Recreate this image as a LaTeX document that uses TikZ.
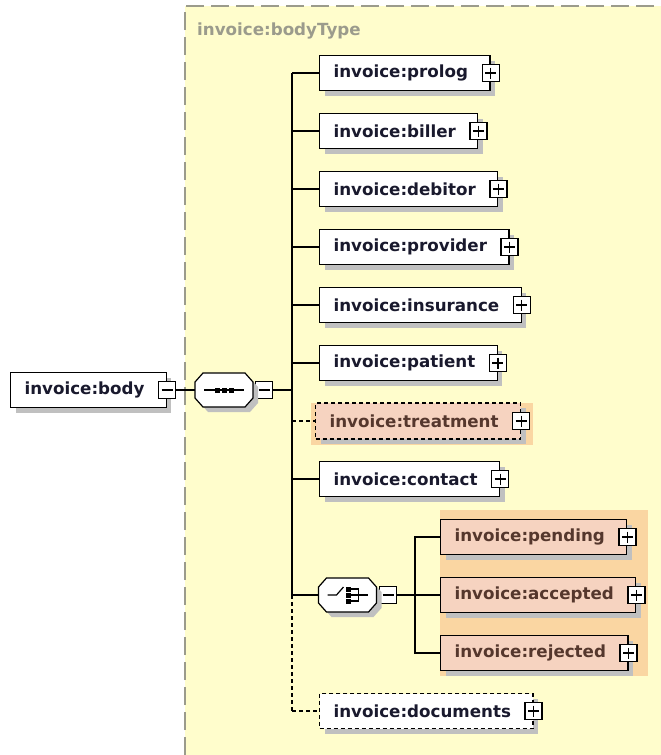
\documentclass[tikz,border=0pt]{standalone}
\usepackage{fontspec}
\setmainfont{DejaVu Sans}
\usetikzlibrary{positioning, shadows}

\definecolor{paneyellow}{RGB}{255,253,204}
\definecolor{panegray}{RGB}{155,155,140}
\definecolor{choicebg}{RGB}{250,214,162}
\definecolor{choicefill}{RGB}{246,211,192}
\definecolor{shadowgray}{RGB}{192,192,192}
\definecolor{elemtext}{RGB}{25,25,45}
\definecolor{choicetext}{RGB}{85,55,45}

% octagon of a compositor, around its centre
\newcommand{\octagonpath}{(-29,-8) -- (-21,-17) -- (21,-17) -- (29,-8) -- (29,8) -- (21,17) -- (-21,17) -- (-29,8) -- cycle}

\begin{document}
\begin{tikzpicture}[x=1pt, y=-1pt,
    element/.style={rectangle, draw, line width=1.2pt, fill=white, minimum height=35pt, inner sep=0pt, anchor=west,
        font=\fontsize{16.7}{20}\selectfont\bfseries, text=elemtext,
        execute at begin node={\hspace{14pt}}, execute at end node={\hspace{22pt}},
        general shadow={fill=shadowgray, shadow xshift=5pt, shadow yshift=-5pt}},
    choiceelem/.style={fill=choicefill, text=choicetext},
    optional/.style={dash pattern=on 4pt off 3pt},
    expbox/.style={rectangle, draw, line width=1.2pt, fill=white, minimum size=17pt, inner sep=0pt},
    minusbox/.style={expbox, path picture={\draw[line width=1.2pt] ([xshift=3pt]path picture bounding box.west) -- ([xshift=-3pt]path picture bounding box.east);}},
    plusbox/.style={expbox, path picture={\draw[line width=1.2pt] ([xshift=3pt]path picture bounding box.west) -- ([xshift=-3pt]path picture bounding box.east)
        ([yshift=-3pt]path picture bounding box.north) -- ([yshift=3pt]path picture bounding box.south);}},
    compositor/.style={rectangle, minimum width=58pt, minimum height=34pt, inner sep=0pt},
    conn/.style={line width=1.2pt}
]
\useasboundingbox (0,0) rectangle (661,755);

% type panel
\fill[paneyellow] (185,6) rectangle (661,755);
\draw[panegray, line width=1.2pt, dash pattern=on 18pt off 7pt] (185,755) -- (185,6) -- (661,6);
\node[anchor=west, inner sep=0pt, font=\fontsize{16.7}{20}\selectfont\bfseries, text=panegray] (typelabel) at (197,31) {invoice:bodyType};

% backgrounds of the choice members
\fill[choicebg] (311,403) rectangle (533,445);
\fill[choicebg] (440,510) rectangle (648,676);

% root element and sequence
\node[element] (body) at (10,390) {invoice:body};
\node[minusbox] (bodyexp) at (body.east) {};
\node[compositor] (seq) at (224,390) {};
\node[minusbox] (seqexp) at (264,390) {};
\coordinate (trunk) at (292,0);

\begin{scope}[shift={(seq.center)}]
  \fill[shadowgray, shift={(5,5)}] \octagonpath;
  \filldraw[conn, fill=white] \octagonpath;
  \draw[conn] (-20,0) -- (20,0);
  \foreach \dx in {-7,0,7}
    \fill (\dx-2.5,-2.5) rectangle (\dx+2.5,2.5);
\end{scope}

% children of the sequence
\node[element] (prolog) at (319,73) {invoice:prolog};
\node[element] (biller) at (319,131) {invoice:biller};
\node[element] (debitor) at (319,189) {invoice:debitor};
\node[element] (provider) at (319,247) {invoice:provider};
\node[element] (insurance) at (319,305) {invoice:insurance};
\node[element] (patient) at (319,363) {invoice:patient};
\node[element, choiceelem, optional, minimum height=36pt] (treatment) at (315,421) {invoice:treatment};
\node[element] (contact) at (319,479) {invoice:contact};
\node[compositor] (choice) at (347.5,595) {};
\node[minusbox] (choiceexp) at (388,595) {};
\node[element, optional] (documents) at (319,711) {invoice:documents};

\begin{scope}[shift={(choice.center)}]
  \fill[shadowgray, shift={(5,5)}] \octagonpath;
  \filldraw[conn, fill=white] \octagonpath;
  \draw[conn] (-20,0) -- (-11,0) -- (-4,-8);
  \foreach \dy in {-6,0,6} {
    \fill (-2,\dy-2.5) rectangle (3,\dy+2.5);
    \draw[conn] (3,\dy) -- (11,\dy);
  }
  \draw[conn] (11,-6) -- (11,6);
  \draw[conn] (11,0) -- (20,0);
\end{scope}

% members of the choice
\node[element, choiceelem] (pending) at (440,537) {invoice:pending};
\node[element, choiceelem] (accepted) at (440,595) {invoice:accepted};
\node[element, choiceelem] (rejected) at (440,653) {invoice:rejected};
\coordinate (fork) at (415,0);

% expand boxes
\foreach \n in {prolog, biller, debitor, provider, insurance, patient, treatment, contact, documents, pending, accepted, rejected}
  \node[plusbox] (\n exp) at (\n.east) {};

% connectors
\draw[conn] (bodyexp.east) -- (seq.west);
\draw[conn] (seqexp.east) -- (seqexp.east -| trunk);
\draw[conn] (prolog.west -| trunk) -- (choice.west -| trunk);
\draw[conn, optional] (choice.west -| trunk) -- (documents.west -| trunk);
\draw[conn] (prolog.west -| trunk) -- (prolog.west);
\draw[conn] (biller.west -| trunk) -- (biller.west);
\draw[conn] (debitor.west -| trunk) -- (debitor.west);
\draw[conn] (provider.west -| trunk) -- (provider.west);
\draw[conn] (insurance.west -| trunk) -- (insurance.west);
\draw[conn] (patient.west -| trunk) -- (patient.west);
\draw[conn, optional] (treatment.west -| trunk) -- (treatment.west);
\draw[conn] (contact.west -| trunk) -- (contact.west);
\draw[conn] (choice.west -| trunk) -- (choice.west);
\draw[conn, optional] (documents.west -| trunk) -- (documents.west);
\draw[conn] (choiceexp.east) -- (accepted.west);
\draw[conn] (pending.west) -- (pending.west -| fork) -- (rejected.west -| fork) -- (rejected.west);

\end{tikzpicture}
\end{document}
